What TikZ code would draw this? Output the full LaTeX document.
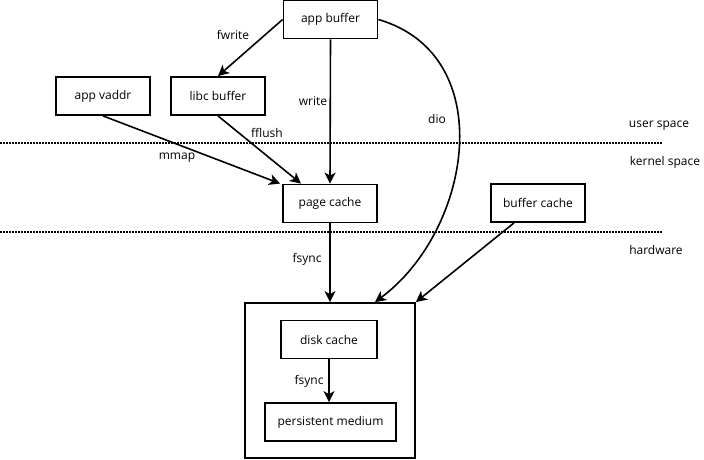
\documentclass[tikz,border=0pt]{standalone}
\usepackage{fontspec}
\setmainfont{Open Sans}
\usetikzlibrary{arrows.meta,calc}
\begin{document}
\begin{tikzpicture}[x=1pt,y=-1pt,
  box/.style={draw,line width=1.8pt,minimum width=#1,minimum height=38pt,inner sep=0pt,font=\fontsize{12}{14}\selectfont},
  box/.default=94pt,
  conn/.style={line width=1.6pt,-{Stealth[length=11pt,width=11pt,inset=3pt]}},
  sep/.style={line width=1.5pt,dash pattern=on 1.5pt off 1.5pt},
  lbl/.style={font=\fontsize{12}{14}\selectfont,inner sep=0pt}]
\useasboundingbox (0,0) rectangle (704,460);
% region separators
\coordinate (s1a) at (0,143); \coordinate (s1b) at (663,143);
\coordinate (s2a) at (0,232); \coordinate (s2b) at (663,232);
\draw[sep] (s1a) -- (s1b);
\draw[sep] (s2a) -- (s2b);
\node[lbl] (us) at (659,126) {user space};
\node[lbl] (ks) at (665,162) {kernel space};
\node[lbl] (hw) at (656,250) {hardware};
% nodes
\node[box] (ab) at (330.5,19.5) {app buffer};
\node[box] (lb) at (218,96) {libc buffer};
\node[box] (av) at (103,96) {app vaddr};
\node[box] (pc) at (330,203.5) {page cache};
\node[box] (bc) at (538,203) {buffer cache};
\node[draw,line width=1.8pt,minimum width=170pt,minimum height=155pt,inner sep=0pt] (disk) at (330,380.5) {};
\node[box=96pt] (dc) at (329,339.5) {disk cache};
\node[box=131pt] (pm) at (330.5,422) {persistent medium};
% connectors
\draw[conn] (ab.west) -- (lb.north);
\node[lbl] (lfw) at (233,35) {fwrite};
\draw[conn] (ab.south) -- (pc.north);
\node[lbl] (lwr) at (313,101) {write};
\draw[conn] (lb.south) -- ($(pc.north)+(-29,0)$);
\node[lbl] (lff) at (267,133) {fflush};
\draw[conn] (av.south) -- ($(pc.north west)+(-2,0)$);
\node[lbl] (lmm) at (177,158) {mmap};
\draw[conn] (pc.south) -- (disk.north);
\node[lbl] (lfs) at (307,259) {fsync};
\draw[conn] (ab.east) .. controls (500,55) and (472,230) .. ($(disk.north)+(45,0)$);
\node[lbl] (ldio) at (437,119) {dio};
\draw[conn] ($(bc.south)+(-24,0)$) -- (disk.north east);
\draw[conn] (dc.south) -- (dc.south |- pm.north);
\node[lbl] (lfs2) at (309,381) {fsync};
\end{tikzpicture}
\end{document}
